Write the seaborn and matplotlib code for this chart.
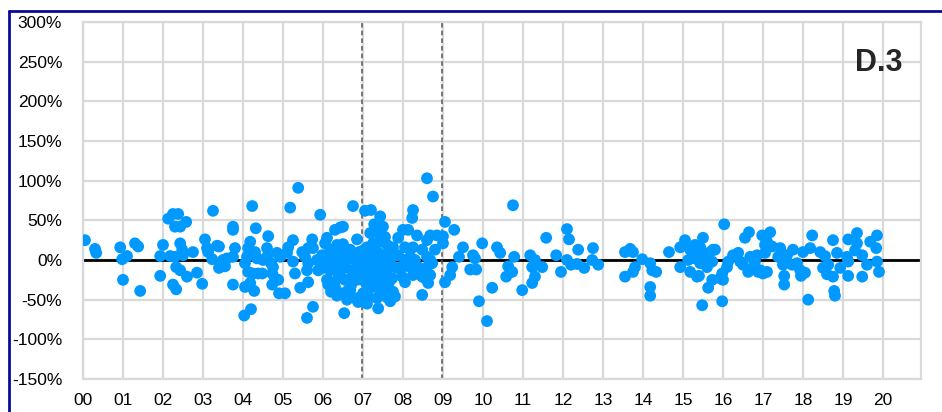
import matplotlib
matplotlib.use("Agg")
import matplotlib.pyplot as plt
import seaborn as sns
import pandas as pd
from matplotlib.lines import Line2D

# ---- data (x in years since 2000, y in %) ----
year_pos = [
    0.05, 0.3, 0.33, 0.93, 0.98, 1.1, 1.0, 1.3, 1.38, 1.43, 1.93, 2.0, 1.93, 2.13, 2.25, 2.38, 2.3, 2.43,
    2.58, 2.18, 2.3, 2.43, 2.48, 2.5, 2.75, 2.33, 2.43, 2.6, 2.25, 2.33, 2.85, 2.98, 3.05, 3.1, 3.13, 3.23,
    3.25, 3.35, 3.4, 3.4, 3.5, 3.6, 3.55, 3.75, 3.75, 3.8, 3.75, 3.75, 4.05, 4.03, 4.2, 4.23, 4.32, 4.18,
    4.13, 4.1, 4.05, 4.23, 4.3, 4.35, 4.13, 4.25, 4.38, 4.48, 4.18, 4.28, 4.5, 4.6, 4.63, 4.6, 4.7, 4.75,
    4.73, 4.8, 4.73, 4.88, 4.85, 4.93, 4.9, 5.05, 5.18, 5.38, 5.25, 5.13, 5.1, 5.25, 5.3, 5.43, 5.6, 5.75,
    5.73, 5.48, 5.55, 5.63, 5.75, 5.63, 5.6, 5.63, 5.85, 5.88, 5.93,
    6.3, 6.43, 6.5, 6.85, 6.1, 6.05, 6.18, 6.35, 5.98, 6.1, 6.25, 6.43, 6.6, 6.73, 6.0, 6.18, 6.3, 6.43,
    6.55, 6.73, 6.85, 6.1, 6.23, 6.38, 6.55, 6.73, 6.85, 6.13, 6.3, 6.48, 6.63, 6.8, 6.88, 6.53,
    8.6, 8.75, 7.05, 7.2, 7.43, 8.25, 8.23, 6.75, 7.18, 7.5, 7.55, 7.88, 8.0, 8.13, 8.35, 8.68, 8.6, 8.25,
    8.48, 8.85, 7.1, 7.25, 7.43, 7.6, 7.75, 7.05, 7.23, 7.38, 7.55, 7.73, 7.88, 7.0, 7.18, 7.35, 7.5, 7.68,
    7.85, 7.05, 7.23, 7.38, 7.55, 7.73, 7.1, 7.25, 7.43, 7.6, 7.75, 7.8, 7.0, 7.13, 7.1, 7.38, 6.95, 8.05,
    8.05, 8.18, 8.3, 7.98, 8.18, 8.38, 7.98, 8.25, 8.48, 8.68, 8.63, 8.48, 8.73, 8.05, 6.35, 6.68, 6.68,
    7.15, 7.3, 7.45, 7.6, 7.65, 7.3, 7.15, 7.45, 7.2, 7.5, 7.35, 7.65, 7.0, 6.98, 7.4, 7.28, 7.6, 7.68,
    6.2, 6.4, 6.6, 6.8, 6.5, 6.7, 6.9, 6.9, 6.35, 6.6, 6.2,
    9.05, 9.28, 9.0, 9.0, 8.8, 8.6, 8.68, 8.6, 9.23, 9.18, 8.55, 9.05, 9.5, 9.4, 9.75, 9.8, 9.98, 9.68,
    9.83, 10.23, 9.9, 10.1, 10.35, 10.43, 10.75, 10.78, 10.63, 10.73, 10.58, 10.98, 11.18, 11.3, 11.23,
    11.48, 11.3, 11.23, 11.58,
    11.83, 11.95, 12.1, 12.15, 12.1, 12.2, 12.35, 12.38, 12.53, 12.73, 12.75, 12.88, 13.55, 13.68, 13.75,
    13.55, 13.75, 13.8, 13.98, 14.18, 14.23, 14.33, 14.18, 14.18,
    14.65, 14.93, 15.05, 14.93, 15.18, 15.3, 15.5, 15.43, 15.18, 15.35, 15.13, 15.3, 15.43, 15.55, 15.68,
    15.8, 15.6, 15.73, 15.63, 15.48, 15.98, 16.0, 15.98, 16.03, 16.13, 16.1, 16.38, 16.5, 16.55, 16.65,
    16.68, 16.85, 16.93, 16.98, 17.05, 17.1, 16.75, 15.43, 15.6, 15.75, 15.73, 15.4, 15.93, 16.63, 16.88,
    17.18, 17.1, 17.23, 17.05, 17.43, 17.38, 17.6, 17.75, 17.53, 17.53, 17.5, 17.73, 17.85, 17.93, 18.05,
    18.0, 18.18, 18.23, 18.13, 18.43, 18.55, 18.5, 18.63, 18.75, 18.85, 18.75, 18.93, 18.78, 18.8, 19.13,
    19.35, 19.35, 19.1, 19.13, 19.13, 19.48, 19.48, 19.6, 19.68, 19.85, 19.83, 19.85, 19.9, 16.25, 16.43,
    16.8, 17.0, 17.95, 18.6, 19.3,
]
pct_value = [
    25, 14, 9, 16, 1, 5, -25, 21, 17, -39, 5, 19, -20, 52, 58, 58, 42, 42,
    48, 5, 4, 21, 13, 6, 10, -9, -13, -21, -31, -37, -16, -30, 26, 15, 10, 1,
    62, 18, 17, -10, 0, 2, -8, 42, 38, 15, 4, -31, -34, -70, -62, 68, 40, 23,
    15, 4, -4, 9, 10, 2, -15, -17, -17, -17, -29, -39, 0, 4, 30, 15, -4, -9,
    -17, -23, -31, -25, 9, 4, -42, -42, 66, 91, 25, 16, 9, -2, -17, -35, -73, -59,
    26, 10, 4, 15, 15, -4, -13, -28, 0, -13, 57,
    38, 41, 42, 26, 28, 21, 13, 19, 6, 0, 4, 9, 10, 6, -10, -13, -8, -13,
    -10, -13, -6, -25, -28, -23, -25, -21, -25, -31, -34, -42, -38, -48, -53, -67,
    103, 80, 62, 63, 55, 63, 53, 68, 34, 42, 29, 28, 38, 38, 31, 31, 25, 16,
    13, 31, 16, 21, 23, 19, 16, 4, 6, 9, 6, 4, 6, -9, -6, -4, -9, -6,
    -10, -19, -21, -17, -21, -23, -31, -34, -29, -35, -40, -46, -42, -46, -55, -61, -47, 16,
    0, 4, 0, -9, -9, -9, -21, -19, -21, -19, -29, -44, -4, -28, 9, 13, -38,
    0, -12, -2, -14, 10, 13, -14, -40, -25, -25, -48, -28, 12, -25, 33, 45, -47, -52,
    -2, -2, 0, 2, 20, -32, -15, 10, -45, -50, -40,
    48, 38, 30, 21, 13, 4, 0, -9, -9, -19, -23, -28, 16, 4, 6, 2, 21, -12,
    -12, -35, -52, -77, 16, 9, 69, 4, -8, -15, -21, -38, 6, 0, -9,
    -9, -21, -29, 28,
    6, -15, 39, 26, 0, -6, -5, 13, -10, 0, 15, -6, 10, 14, 10,
    -21, -15, -9, 1, -4, -13, -15, -34, -45,
    10, 16, 25, -9, 13, 19, 28, 16, -15, -21, 0, 2, -4, 2, 10,
    13, -9, -25, -35, -57, -17, -25, -52, 45, -2, -9, 9, -6, 28, 35,
    4, 6, -13, 31, 19, -15, -10, 9, 6, 13, -2, -20, -23, -15, -15,
    35, 23, 17, 9, 15, 4, 6, 13, -20, -31, -6, -6, -4, -13, -16,
    10, 15, 31, -50, 10, 5, -10, -6, 25, 9, -21, -10, -39, -45, 26,
    34, 21, 4, -2, -20, -21, 6, -6, 23, 31, 15, -2, -15, 6, -2,
    -2, -17, -20, -18, 12,
]
year_ticks = list(range(0, 21))
year_labels = [f"{y:02d}" for y in year_ticks]
pct_ticks = [-150, -100, -50, 0, 50, 100, 150, 200, 250, 300]
pct_labels = [f"{p}%" for p in pct_ticks]
marker_lines = [6.97, 8.97]
panel_label = "D.3"

df = pd.DataFrame({"year": year_pos, "pct": pct_value})

sns.set_style("white")
plt.rcParams["font.family"] = ["Liberation Sans", "DejaVu Sans"]

W, H = 942, 412
fig = plt.figure(figsize=(W / 100, H / 100), dpi=100)
ax = fig.add_axes([83 / W, (H - 379) / H, (921 - 83) / W, (379 - 22) / H])

grid_c = "#D9D9D9"
ax.set_xlim(0, (921 - 83) / 40.0)
ax.set_ylim(-150, 300)
ax.set_xticks(year_ticks)
ax.set_xticklabels(year_labels, fontsize=12.5)
ax.set_yticks(pct_ticks)
ax.set_yticklabels(pct_labels, fontsize=12.5)
ax.tick_params(axis="both", length=0, colors="black")
ax.tick_params(axis="y", pad=15)
ax.tick_params(axis="x", pad=10)
ax.grid(True, color=grid_c, linewidth=1.6, zorder=0)
ax.set_axisbelow(True)
for s in ax.spines.values():
    s.set_color(grid_c)
    s.set_linewidth(1.6)

ax.axhline(0, color="black", linewidth=2, zorder=2)
for xv in marker_lines:
    ax.axvline(xv, color="#595959", linewidth=1.1, linestyle=(0, (3, 2)), zorder=2)

sns.scatterplot(data=df, x="year", y="pct", ax=ax, color="#0099FF", s=72,
                linewidth=0, edgecolor="none", zorder=3, legend=False)
ax.set_xlabel("")
ax.set_ylabel("")

ax.text(19.9, 248, panel_label, fontsize=22, fontweight="bold", ha="center", va="center", zorder=4)

# navy frame (left and top)
fig.add_artist(Line2D([9 / W, 9 / W], [0, 1 - 11 / H], transform=fig.transFigure, color="#0A0A96", linewidth=2))
fig.add_artist(Line2D([9 / W, 1], [1 - 11 / H, 1 - 11 / H], transform=fig.transFigure, color="#0A0A96", linewidth=2))

fig.savefig("out.png", dpi=100)
